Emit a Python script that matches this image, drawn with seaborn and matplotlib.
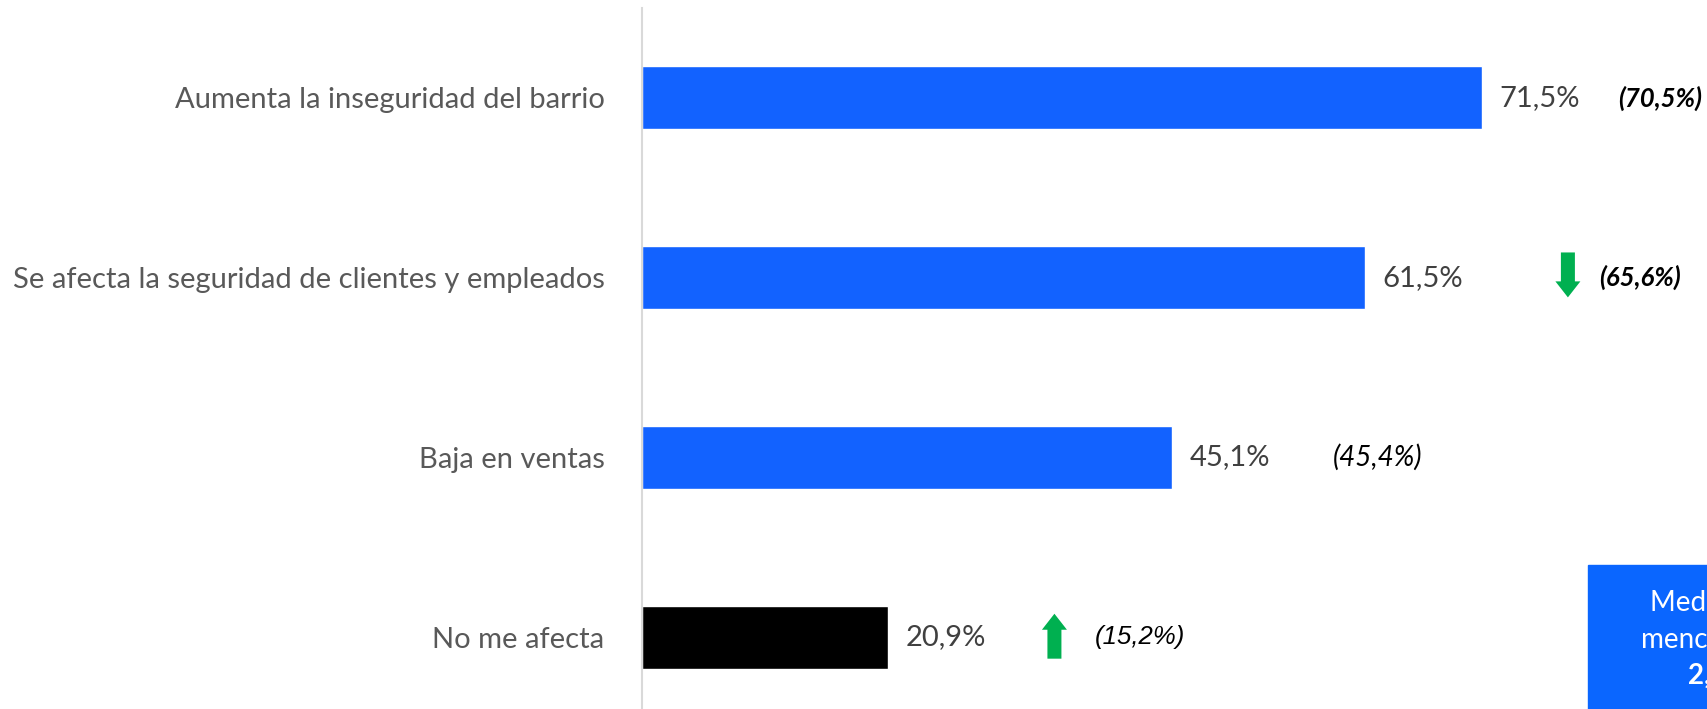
import matplotlib
matplotlib.use("Agg")
import matplotlib.pyplot as plt
import seaborn as sns
import pandas as pd
from matplotlib.patches import FancyArrow, Rectangle

# --- datos ---
categorias = [
    "Aumenta la inseguridad del barrio",
    "Se afecta la seguridad de clientes y empleados",
    "Baja en ventas",
    "No me afecta",
]
valores = [71.5, 61.5, 45.1, 20.9]
anteriores = [70.5, 65.6, 45.4, 15.2]
# tendencia respecto a la medición anterior: 0 sin flecha, -1 baja, 1 sube
tendencia = [0, -1, 0, 1]
caja_lineas = ["Media de", "menciones", "2,2"]

# --- estilo ---
colores = ["#1262FF", "#1262FF", "#1262FF", "#000000"]
verde = "#00B050"
pos_anterior = [83.1, 81.5, 58.8, 38.5]
pos_flecha = [None, 78.8, None, 35.1]
estilo_anterior = [
    dict(family="Lato", style="italic", weight="bold", fontsize=18.5),
    dict(family="Lato", style="italic", weight="bold", fontsize=18.5),
    dict(family="Lato", style="italic", weight="normal", fontsize=20),
    dict(family="Liberation Sans", style="italic", weight="normal", fontsize=18.5),
]

sns.set_style("white")
plt.rcParams["font.family"] = ["Lato", "DejaVu Sans"]

df = pd.DataFrame({"cat": categorias, "val": valores})

fig = plt.figure(figsize=(17.07, 7.09), dpi=100)
ax = fig.add_axes([642 / 1707, 0, 1 - 642 / 1707, 1 - 8 / 709])

sns.barplot(data=df, y="cat", x="val", hue="cat", palette=colores,
            orient="h", width=0.35, legend=False, ax=ax, saturation=1)

ax.set_xlim(0, 1065 / 11.75)
ax.set_ylim(3.4, -0.5)
ax.set_xlabel("")
ax.set_ylabel("")
ax.set_xticks([])
ax.tick_params(axis="y", length=0, pad=27, labelsize=21, labelcolor="#595959")
for s in ["top", "right", "bottom"]:
    ax.spines[s].set_visible(False)
ax.spines["left"].set_color("#D9D9D9")
ax.spines["left"].set_linewidth(1.5)

for i, (v, p) in enumerate(zip(valores, anteriores)):
    ax.text(v + 1.5, i, f"{v:.1f}%".replace(".", ","), va="center", ha="left",
            fontsize=21, color="#404040")
    ax.text(pos_anterior[i], i, f"({p:.1f}%)".replace(".", ","), va="center",
            ha="left", color="#000000", **estilo_anterior[i])
    if tendencia[i] != 0:
        largo = 0.25
        y0 = i - 0.14 if tendencia[i] < 0 else i + 0.12
        ax.add_patch(FancyArrow(pos_flecha[i], y0, 0, -tendencia[i] * largo,
                                width=14 / 11.75, head_width=25 / 11.75,
                                head_length=16 / 179.7, length_includes_head=True,
                                color=verde, lw=0))

# caja de media de menciones (cortada por el borde derecho, como en el original)
fig.patches.append(Rectangle((1588 / 1707, 0), 1, 1 - 565 / 709,
                             transform=fig.transFigure, color="#0A66FF", zorder=0))
ys = [1 - 603 / 709, 1 - 640 / 709, 1 - 676 / 709]
for j, (t, y) in enumerate(zip(caja_lineas, ys)):
    fig.text(1707 / 1707, y, t, ha="center", va="center", color="white",
             fontsize=20, fontweight="bold" if j == 2 else "normal")

fig.savefig("out.png", dpi=100)
